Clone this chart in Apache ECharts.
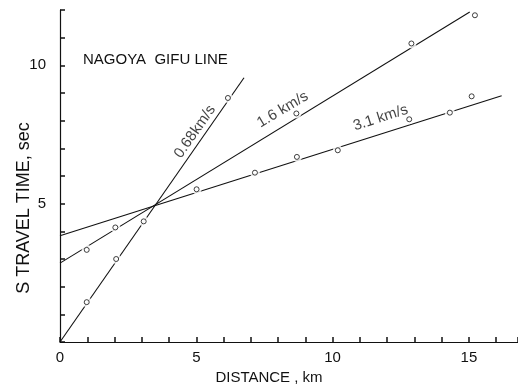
<!DOCTYPE html>
<html><head><meta charset="utf-8">
<script src="https://cdn.jsdelivr.net/npm/echarts@6/dist/echarts.min.js"></script>
<style>html,body{margin:0;padding:0;background:#fff}#c{width:518px;height:384px}</style>
</head><body><div id="c"></div>
<script>
// ---- data ----
const chartTitle = 'NAGOYA  GIFU LINE';
const xAxisName = 'DISTANCE , km';
const yAxisName = 'S TRAVEL TIME, sec';
const xLabelValues = [0, 5, 10, 15];
const yLabelValues = [5, 10];
// observed stations: distance (km), S travel time (sec)
const obsDistance = [0.98, 2.06, 3.07, 6.16, 0.98, 2.03, 8.67, 12.89, 15.22, 5.01, 7.15, 8.69, 10.19, 12.81, 14.30, 15.10];
const obsTime     = [1.44, 3.00, 4.36, 8.82, 3.33, 4.14, 8.26, 10.79, 11.81, 5.52, 6.12, 6.69, 6.93, 8.05, 8.29, 8.88];
// fitted lines (endpoints as drawn)
const line068X = [0, 6.75],  line068Y = [0, 9.55];
const line16X  = [0, 15.03], line16Y  = [2.85, 11.93];
const line31X  = [0, 16.2],  line31Y  = [3.84, 8.9];
const lineNames = ['0.68km/s', '1.6 km/s', '3.1 km/s'];

// ---- layout / style ----
const FONT = 'Liberation Sans';
const labelAnchors = [[4.95, 7.6, 55], [8.17, 8.4, 31], [11.76, 8.1, 18]];
const pairs = (xs, ys) => xs.map((x, i) => [x, ys[i]]);
const obs = pairs(obsDistance, obsTime);
const pick = (list) => (v) => (list.indexOf(Math.round(v * 1000) / 1000) >= 0 ? String(v) : '');

const chart = echarts.init(document.getElementById('c'), null, {renderer: 'canvas'});
const lineSeries = (xs, ys) => ({
  type: 'line', data: pairs(xs, ys), symbol: 'none', showSymbol: false, silent: true, z: 2,
  lineStyle: {color: '#111', width: 1.1}, animation: false
});
chart.setOption({
  animation: false,
  backgroundColor: '#fff',
  title: {text: chartTitle, left: 78, top: 47,
    textStyle: {fontFamily: FONT, fontSize: 15, fontWeight: 'normal', color: '#111'}},
  grid: {left: 60, right: 0, top: 10, bottom: 42, outerBoundsMode: 'none', containLabel: false},
  xAxis: {
    type: 'value', min: 0, max: 16.8, interval: 1,
    name: xAxisName, nameLocation: 'middle', nameGap: 28, nameMoveOverlap: false,
    nameTextStyle: {fontFamily: FONT, fontSize: 15, color: '#111', padding: [0, 40, 0, 0]},
    axisLine: {show: true, onZero: false, lineStyle: {color: '#111', width: 1.2}},
    axisTick: {show: true, inside: true, length: 5, interval: 0, lineStyle: {color: '#111', width: 1.5}},
    axisLabel: {formatter: pick(xLabelValues), interval: 0, margin: 8, fontFamily: FONT, fontSize: 15, color: '#111'},
    splitLine: {show: false}
  },
  yAxis: {
    type: 'value', min: 0, max: 12, interval: 1,
    name: yAxisName, nameLocation: 'middle', nameGap: 27, nameMoveOverlap: false,
    nameTextStyle: {fontFamily: FONT, fontSize: 18, color: '#111', padding: [0, 64, 0, 0]},
    axisLine: {show: true, onZero: false, lineStyle: {color: '#111', width: 1.2}},
    axisTick: {show: true, inside: true, length: 5, interval: 0, lineStyle: {color: '#111', width: 1.5}},
    axisLabel: {formatter: pick(yLabelValues), interval: 0, margin: 14, fontFamily: FONT, fontSize: 15, color: '#111'},
    splitLine: {show: false}
  },
  series: [
    lineSeries(line068X, line068Y),
    lineSeries(line16X, line16Y),
    lineSeries(line31X, line31Y),
    {type: 'scatter', data: obs, symbol: 'circle', symbolSize: 10, z: 3, silent: true,
      itemStyle: {color: '#fff', borderWidth: 0}},
    {type: 'scatter', data: obs, symbol: 'circle', symbolSize: 5, z: 4, silent: true,
      itemStyle: {color: '#fff', borderColor: '#111', borderWidth: 1}},
    {type: 'scatter', symbolSize: 0, silent: true, z: 5,
      data: labelAnchors.map((a, i) => ({value: [a[0], a[1]],
        label: {show: true, position: 'inside', formatter: lineNames[i], rotate: a[2],
          fontFamily: FONT, fontSize: 15, color: '#111'}}))}
  ]
});
</script></body></html>
